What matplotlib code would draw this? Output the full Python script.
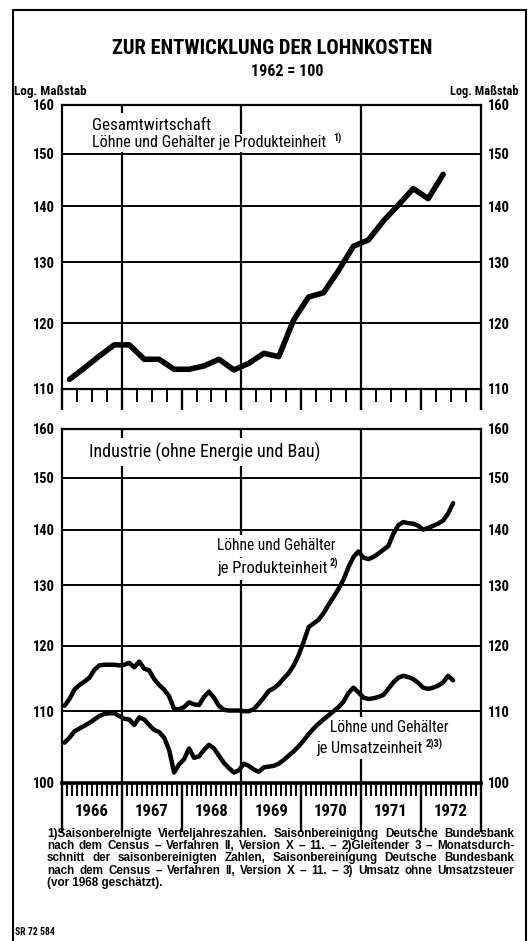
# Zur Entwicklung der Lohnkosten (1962 = 100), log scale, two panels

import numpy as np
import matplotlib.pyplot as plt
from matplotlib import font_manager as fm
from matplotlib.ticker import FixedLocator, NullLocator, NullFormatter
from matplotlib.patches import Rectangle
from matplotlib.transforms import blended_transform_factory

# schmale Schrift suchen (falls vorhanden)
names = {f.name for f in fm.fontManager.ttflist}
narrow, stretch = None, 'normal'
for p in ['Liberation Sans Narrow', 'Roboto Condensed', 'Open Sans Condensed',
          'DejaVu Sans Condensed', 'Noto Sans Condensed']:
    if p in names:
        narrow = p
        break
if narrow is None:
    for f in fm.fontManager.ttflist:
        st = str(f.stretch).lower()
        if ('condensed' in st or 'narrow' in f.name.lower()
                or 'condensed' in f.name.lower()) and 'mono' not in f.name.lower():
            narrow, stretch = f.name, f.stretch
            break
if narrow is not None:
    plt.rcParams['font.family'] = [narrow, 'DejaVu Sans']
    plt.rcParams['font.stretch'] = stretch
else:
    plt.rcParams['font.family'] = ['Liberation Sans', 'DejaVu Sans']
plt.rcParams['font.weight'] = 'bold'

# Gesamtwirtschaft, Vierteljahreswerte Q1 1966 .. Q2 1972
gesamt = [111.4, 113.1, 114.9, 116.6, 116.6, 114.4, 114.4, 112.9, 112.9, 113.4,
          114.4, 112.8, 113.8, 115.3, 114.8, 120.5, 124.2, 124.9, 128.6, 132.8,
          133.9, 137.3, 140.2, 143.3, 141.4, 146.0]

# Industrie, gleitende 3-Monatsdurchschnitte Jan 1966 .. Jul 1972
ind_produkt = [110.8, 111.8, 113.2, 113.9, 114.4, 115.0, 116.2, 116.9, 117.0, 117.0,
               117.0, 116.9, 117.0, 117.3, 116.6, 117.5, 116.4, 116.1, 114.8, 113.9,
               113.2, 112.2, 110.3, 110.3, 110.6, 111.3, 111.0, 110.9, 112.1, 112.9,
               112.0, 110.8, 110.2, 110.1, 110.1, 110.1, 110.0, 110.0, 110.3, 111.1,
               112.0, 113.0, 113.4, 114.0, 114.9, 115.7, 116.9, 118.5, 120.6, 123.0,
               123.6, 124.2, 125.3, 126.7, 128.0, 129.4, 131.0, 133.2, 135.0, 136.0,
               134.9, 134.6, 135.0, 135.6, 136.3, 137.0, 139.2, 140.8, 141.4, 141.2,
               141.1, 140.7, 140.0, 140.3, 140.7, 141.1, 141.7, 143.0, 145.0]
ind_umsatz = [105.5, 106.2, 107.1, 107.5, 107.9, 108.3, 108.8, 109.3, 109.6, 109.7,
              109.7, 109.3, 108.9, 108.8, 108.0, 109.1, 108.8, 108.0, 107.3, 107.0,
              106.2, 104.5, 101.4, 102.5, 103.2, 104.7, 103.4, 103.6, 104.5, 105.2,
              104.7, 103.7, 102.7, 102.0, 101.4, 101.7, 102.6, 102.3, 101.8, 101.5,
              102.1, 102.2, 102.3, 102.6, 103.1, 103.7, 104.3, 105.0, 105.8, 106.7,
              107.5, 108.2, 108.8, 109.4, 110.0, 110.6, 111.4, 112.7, 113.5, 112.8,
              112.0, 111.8, 111.9, 112.1, 112.4, 113.3, 114.3, 115.0, 115.3, 115.1,
              114.8, 114.2, 113.5, 113.3, 113.5, 113.8, 114.3, 115.3, 114.6]

years = [1966, 1967, 1968, 1969, 1970, 1971, 1972]
grid_years = [1967, 1969, 1971]
levels_top = [110, 120, 130, 140, 150, 160]
levels_bot = [100, 110, 120, 130, 140, 150, 160]

footnotes = [
    "1)Saisonbereinigte Vierteljahreszahlen. Saisonbereinigung Deutsche Bundesbank",
    "nach dem Census – Verfahren II, Version X – 11. – 2)Gleitender 3 – Monatsdurch-",
    "schnitt der saisonbereinigten Zahlen, Saisonbereinigung Deutsche Bundesbank",
    "nach dem Census – Verfahren II, Version X – 11. – 3) Umsatz ohne Umsatzsteuer",
    "(vor 1968 geschätzt).",
]

t_q = 1966 + (np.arange(len(gesamt)) + 0.5) / 4
t_m = 1966 + (np.arange(len(ind_produkt)) + 0.5) / 12

W, H = 529, 941
fig = plt.figure(figsize=(W / 100, H / 100), dpi=100)
fig.patch.set_facecolor('white')
renderer = fig.canvas.get_renderer()


def fx(x):
    return x / W


def fy(y):
    return 1 - y / H


def ftext(x, y, s, **kw):
    return fig.text(fx(x), fy(y), s, **kw)


def fit(t, width_px):
    # Schriftgroesse so waehlen, dass der Text die Breite im Original hat
    w = t.get_window_extent(renderer).width
    t.set_fontsize(t.get_fontsize() * width_px / w)
    return t


def size_for(s, width_px, **kw):
    t = fig.text(0, 0, s, fontsize=10, **kw)
    w = t.get_window_extent(renderer).width
    t.remove()
    return 10 * width_px / w


def justify(x0, x1, y, s, **kw):
    words = s.split(' ')
    parts = [ftext(x0, y, w, va='center', **kw) for w in words]
    widths = [p.get_window_extent(renderer).width for p in parts]
    gap = (x1 - x0 - sum(widths)) / (len(words) - 1)
    x = x0
    for p, w in zip(parts, widths):
        p.set_x(fx(x))
        x += w + gap


if narrow is not None:
    tick_size = size_for("160", 22)
else:
    tick_size = 10.5
year_size = size_for("1966", 34)


def setup(ax, levels, major_len, minor_step):
    ax.set_yscale('log')
    ax.set_ylim(levels[0], levels[-1])
    ax.set_xlim(1966, 1973)
    ax.yaxis.set_major_locator(FixedLocator(levels))
    ax.yaxis.set_minor_locator(NullLocator())
    ax.yaxis.set_minor_formatter(NullFormatter())
    ax.set_yticks(levels, [str(v) for v in levels])
    ax.tick_params(axis='y', length=0, labelsize=tick_size, labelleft=True,
                   labelright=True, pad=5)
    ax.set_xticks(years + [1973], [''] * 8)
    ax.xaxis.set_minor_locator(FixedLocator(np.arange(1966, 1973, minor_step)))
    ax.tick_params(axis='x', which='major', direction='out', length=major_len, width=1.7)
    ax.tick_params(axis='x', which='minor', direction='out', length=9, width=1.4)
    for v in levels[1:-1]:
        ax.axhline(v, color='black', lw=1.4, zorder=1)
    for yr in grid_years:
        ax.axvline(yr, color='black', lw=1.6, zorder=1)
    for s in ax.spines.values():
        s.set_linewidth(1.6)


# oberes Feld: Gesamtwirtschaft
ax1 = fig.add_axes([fx(62), fy(389), fx(480.5) - fx(62), (389 - 105) / H])
setup(ax1, levels_top, 15, 0.25)
ax1.plot(t_q, gesamt, color='black', lw=4.0, solid_capstyle='round',
         solid_joinstyle='round', zorder=3)

# unteres Feld: Industrie
ax2 = fig.add_axes([fx(62), fy(783), fx(480.5) - fx(62), (783 - 429) / H])
setup(ax2, levels_bot, 35, 1 / 12)
ax2.spines['bottom'].set_linewidth(2.6)
ax2.plot(t_m, ind_produkt, color='black', lw=3.2, solid_capstyle='round',
         solid_joinstyle='round', zorder=3)
ax2.plot(t_m, ind_umsatz, color='black', lw=3.2, solid_capstyle='round',
         solid_joinstyle='round', zorder=3)

tr = blended_transform_factory(ax2.transData, fig.transFigure)
for yr in years:
    ax2.text(yr + 0.5, fy(812), str(yr), transform=tr, ha='center', va='center',
             fontsize=year_size)

# Beschriftungen in den Feldern (weiss hinterlegt)
box = dict(facecolor='white', edgecolor='none', pad=2.5)
ftf = fig.transFigure
lab = dict(transform=ftf, fontsize=10.5, fontweight='normal', va='center', bbox=box,
           zorder=2)
fit(ax1.text(fx(92), fy(125), "Gesamtwirtschaft", **lab), 120)
lab_top = dict(lab, bbox=dict(facecolor='white', edgecolor='none', pad=1.0))
fit(ax1.text(fx(92), fy(143), "Löhne und Gehälter je Produkteinheit", **lab_top), 236)
ax1.text(fx(333), fy(138), "1)", transform=ftf, fontsize=7, va='center', zorder=2)

fit(ax2.text(fx(89), fy(452), "Industrie (ohne Energie und Bau)", **lab), 233)
fit(ax2.text(fx(217), fy(546), "Löhne und Gehälter", **lab), 120)
fit(ax2.text(fx(217), fy(569), "je Produkteinheit", **lab), 111)
ax2.text(fx(330), fy(563), "2)", transform=ftf, fontsize=7.5, va='center', zorder=2)
fit(ax2.text(fx(330), fy(728), "Löhne und Gehälter", **lab), 120)
fit(ax2.text(fx(316), fy(748), "je Umsatzeinheit", **lab), 107)
ax2.text(fx(426), fy(744), "2)3)", transform=ftf, fontsize=7.5, va='center', zorder=2)

# Kopf
fit(ftext(272, 49, "ZUR ENTWICKLUNG DER LOHNKOSTEN", ha='center', va='center',
          fontsize=14), 322)
ftext(287, 72, "1962 = 100", ha='center', va='center', fontsize=11.5)
fit(ftext(14, 91, "Log. Maßstab", ha='left', va='center', fontsize=7.5), 72)
fit(ftext(518, 91, "Log. Maßstab", ha='right', va='center', fontsize=7.5), 68)

# Fussnoten (Blocksatz, normale Laufweite)
fn_font = dict(family=['Liberation Sans', 'DejaVu Sans'], fontstretch='normal')
fn_size = 0.97 * size_for(footnotes[0], 467, **fn_font)
for i, line in enumerate(footnotes):
    y = 834 + i * 12.2
    if i < len(footnotes) - 1:
        justify(47, 514, y, line, fontsize=fn_size, **fn_font)
    else:
        ftext(47, y, line, ha='left', va='center', fontsize=fn_size, **fn_font)
ftext(15, 932, "SR 72 584", ha='left', va='center', fontsize=7)

# Rahmen
fig.add_artist(Rectangle((fx(13), fy(960)), fx(526) - fx(13), (960 - 10) / H,
                         transform=fig.transFigure, fill=False, lw=1.5,
                         edgecolor='black'))

fig.savefig('out.png', dpi=100, facecolor='white')
